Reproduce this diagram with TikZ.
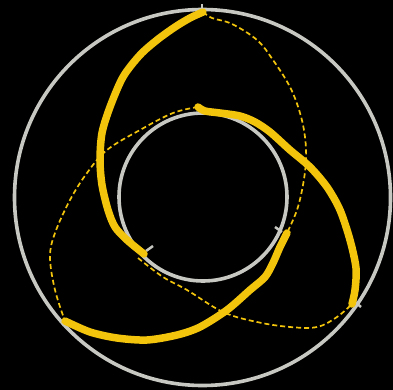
\documentclass[tikz,border=0pt]{standalone}
\begin{document}
\begin{tikzpicture}[x=1pt,y=-1pt,
  ring/.style={draw=ringgray,line width=3.6pt},
  tickmark/.style={draw=ringgray,line width=2.5pt},
  thickpath/.style={draw=curveyellow,line width=7.5pt,line cap=round,line join=round},
  dashpath/.style={draw=curveyellow,line width=1.7pt,dash pattern=on 5pt off 3pt}]
\definecolor{ringgray}{RGB}{200,200,194}
\definecolor{curveyellow}{RGB}{242,196,12}
\fill[black] (0,0) rectangle (393,390);
\useasboundingbox (0,0) rectangle (393,390);
% circles
\draw[ring] (202.5,197.5) circle[radius=188];
\draw[ring] (203,197) circle[radius=84];
% endpoints
\coordinate (otop) at (203,12);
\coordinate (obr) at (352,304);
\coordinate (obl) at (65,321);
\coordinate (itop) at (198,107);
\coordinate (iright) at (287,233);
\coordinate (ill) at (144,254);
% ticks
\draw[tickmark] (202,4) -- (202,10);
\draw[tickmark] (146,251) -- (153,246);
\draw[tickmark] (275,227) -- (282,232);
\draw[tickmark] (355,302) -- (361,307);
\draw[tickmark] (62,320) -- (64,326);
% dashed curves
\draw[dashpath] plot[smooth,tension=0.6] coordinates {(otop) (212,18) (232,24) (257,40) (273,60) (290,87) (300,113) (305,137) (306,160) (303,185) (297,210) (iright)};
\draw[dashpath] plot[smooth,tension=0.6] coordinates {(itop) (173,113) (140,130) (107,150) (87,173) (70,200) (55,233) (50,257) (55,290) (obl)};
\draw[dashpath] plot[smooth,tension=0.6] coordinates {(138,258) (163,277) (187,290) (223,312) (257,322) (290,327) (317,327) (337,317) (obr)};
% thick curves
\draw[thickpath] plot[smooth,tension=0.5] coordinates {(otop) (190,18) (175,27) (157,40) (140,55) (123,77) (110,107) (102,133) (100,160) (102,185) (108,210) (115,227) (127,240) (ill)};
\draw[thickpath] plot[smooth,tension=0.5] coordinates {(itop) (205,111) (220,113) (240,116) (255,122) (270,132) (290,150) (310,167) (327,187) (340,210) (350,240) (356,268) (355,290) (obr)};
\draw[thickpath] plot[smooth,tension=0.5] coordinates {(iright) (280,247) (273,263) (265,277) (250,290) (227,310) (200,327) (177,335) (147,340) (117,338) (90,332) (obl)};
\end{tikzpicture}
\end{document}
